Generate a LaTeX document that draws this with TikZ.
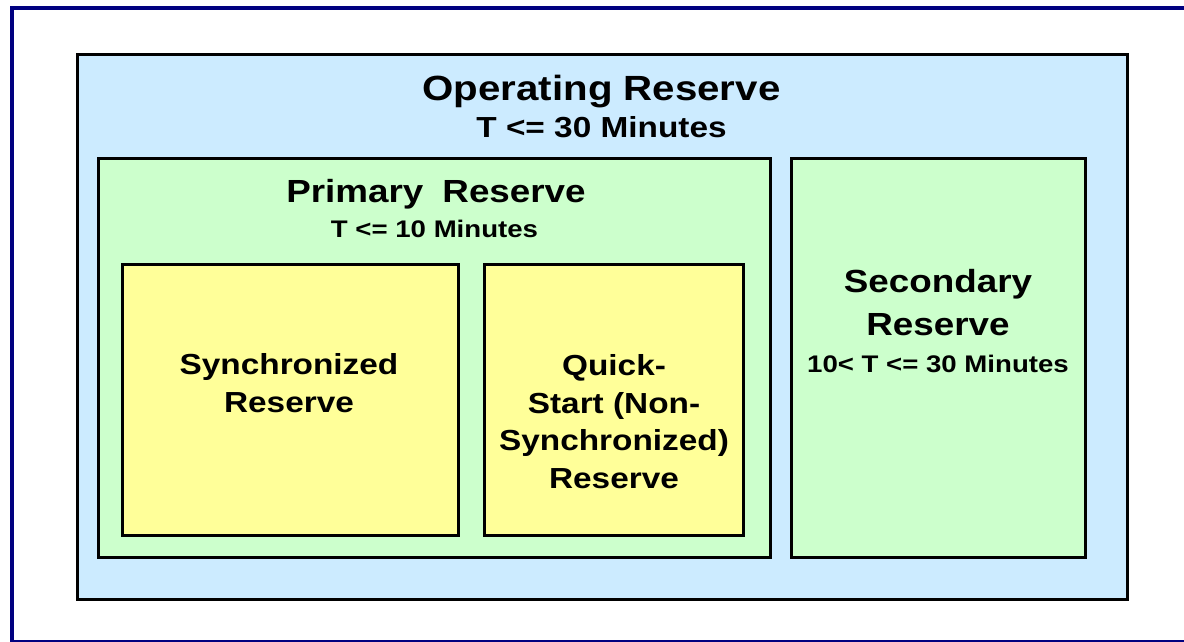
\documentclass[tikz,border=0pt]{standalone}
\usepackage{fontspec}
\setmainfont{Liberation Sans}[FakeStretch=1.15]
\definecolor{opfill}{RGB}{204,235,255}
\definecolor{grfill}{RGB}{204,255,204}
\definecolor{yefill}{RGB}{255,255,153}
\definecolor{framecol}{RGB}{0,0,128}
\begin{document}
\begin{tikzpicture}[x=1pt,y=-1pt,
  box/.style={draw=black, line width=3pt, inner sep=0pt, outer sep=0pt, anchor=north west},
  lbl/.style={anchor=base, inner sep=0pt, text=black, font=\bfseries\fontsize{#1}{#1}\selectfont},
  lbl/.default=29]
\useasboundingbox (0,0) rectangle (1184,641);
\clip (0,0) rectangle (1184,641);
\fill[white] (0,0) rectangle (1184,641);
% outer frame
\node[draw=framecol, line width=4pt, inner sep=0pt, outer sep=0pt, anchor=north west,
  minimum width=1180pt, minimum height=634pt] (frame) at (12,7.5) {};
% boxes
\node[box, fill=opfill, minimum width=1049.5pt, minimum height=545pt] (op) at (77.5,54) {};
\node[box, fill=grfill, minimum width=672pt, minimum height=399pt] (prim) at (98,158) {};
\node[box, fill=grfill, minimum width=294pt, minimum height=399pt] (sec) at (791,158) {};
\node[box, fill=yefill, minimum width=336pt, minimum height=271pt] (sync) at (122,264) {};
\node[box, fill=yefill, minimum width=259pt, minimum height=271pt] (quick) at (484,264) {};
% labels
\node[lbl=35] (opt) at (601.5,100) {Operating Reserve};
\node[lbl=29] (opt2) at (601.5,137) {T <= 30 Minutes};
\node[lbl=32] (prt) at (436,202) {Primary\hspace{0.6em}Reserve};
\node[lbl=24] (prt2) at (434.5,237) {T <= 10 Minutes};
\node[lbl=29] (sy1) at (289,374) {Synchronized};
\node[lbl=29] (sy2) at (289,412) {Reserve};
\node[lbl=29] (qs1) at (614,375) {Quick-};
\node[lbl=29] (qs2) at (614,413) {Start (Non-};
\node[lbl=29] (qs3) at (614,450) {Synchronized)};
\node[lbl=29] (qs4) at (614,488) {Reserve};
\node[lbl=32] (se1) at (938,292) {Secondary};
\node[lbl=32] (se2) at (938,335) {Reserve};
\node[lbl=24] (se3) at (938,372) {10< T <= 30 Minutes};
\end{tikzpicture}
\end{document}
